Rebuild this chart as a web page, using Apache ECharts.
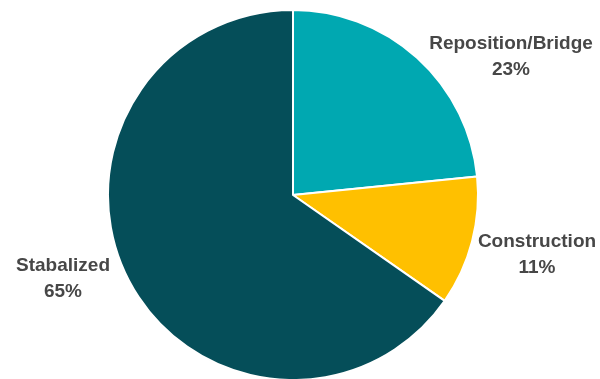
<!DOCTYPE html>
<html><head><meta charset="utf-8">
<script src="https://cdn.jsdelivr.net/npm/echarts@6/dist/echarts.min.js"></script>
<style>html,body{margin:0;padding:0;background:#fff}#c{width:600px;height:379px}</style>
</head><body><div id="c"></div>
<script>
const categories = ['Reposition/Bridge', 'Construction', 'Stabalized'];
const values = [23.4, 11.3, 65.3];
const colors = ['#00A8B1', '#FFC000', '#054E59'];
const labelPos = [[511, 57], [537, 255], [63, 279]];

const chart = echarts.init(document.getElementById('c'));
chart.setOption({
  animation: false,
  series: [{
    type: 'pie',
    center: [293, 195],
    radius: [0, 185],
    startAngle: 90,
    clockwise: true,
    data: categories.map((n, i) => ({ name: n, value: values[i], itemStyle: { color: colors[i] } })),
    itemStyle: { borderColor: '#fff', borderWidth: 2 },
    label: {
      show: true,
      position: 'outside',
      overflow: 'none',
      width: 250,
      formatter: p => p.name + '\n' + Math.round(p.percent) + '%',
      fontFamily: 'Liberation Sans, Arial, sans-serif',
      fontWeight: 'bold',
      fontSize: 19,
      lineHeight: 26,
      color: '#474747',
      align: 'center'
    },
    labelLine: { show: false },
    labelLayout: p => ({ x: labelPos[p.dataIndex][0], y: labelPos[p.dataIndex][1], align: 'center', verticalAlign: 'middle' })
  }]
});
</script></body></html>
